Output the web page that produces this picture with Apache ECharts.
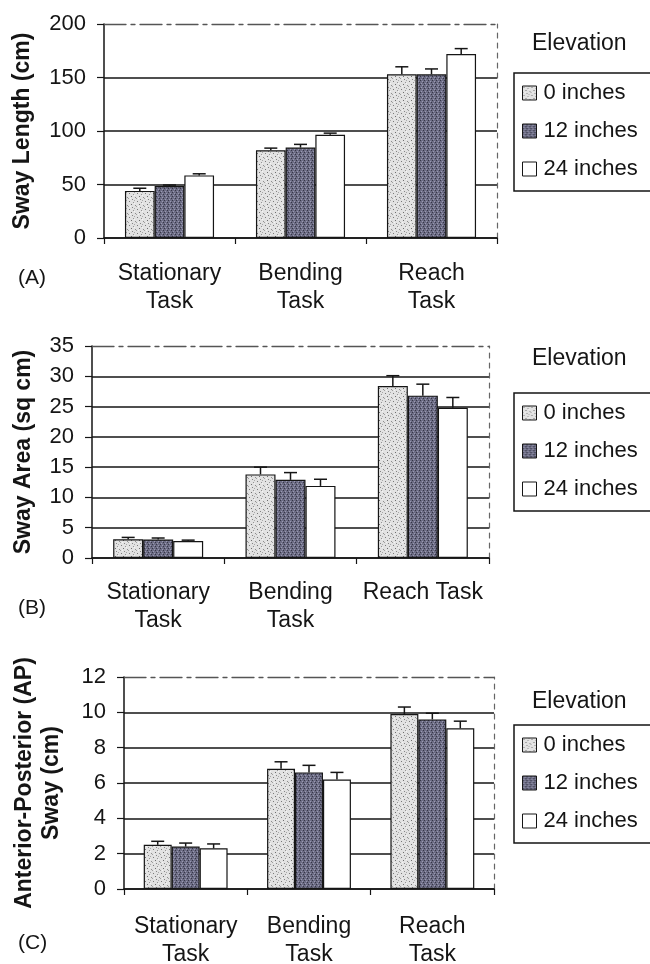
<!DOCTYPE html>
<html>
<head>
<meta charset="utf-8">
<script src="https://cdn.jsdelivr.net/npm/echarts@6/dist/echarts.min.js"></script>
<style>
html,body{margin:0;padding:0;background:#fff;}
#chart{width:650px;height:964px;}
</style>
</head>
<body>
<div id="chart"></div>
<script>
// ---------- data ----------
const categoriesTwoLine = ['Stationary\nTask', 'Bending\nTask', 'Reach\nTask'];
const categoriesAreaPanel = ['Stationary\nTask', 'Bending\nTask', 'Reach Task'];
const seriesNames = ['0 inches', '12 inches', '24 inches'];

// Panel A: Sway Length (cm)
const lengthZero   = [44, 82, 153];
const lengthTwelve = [48.5, 84.5, 153];
const lengthTwenty = [58.5, 96.5, 172];
const lengthErrZero   = [2.5, 2, 7];
const lengthErrTwelve = [1, 3, 5];
const lengthErrTwenty = [1.5, 1.5, 5];
const lengthTicks = {min: 0, max: 200, interval: 50};

// Panel B: Sway Area (sq cm)
const areaZero   = [3.1, 13.8, 28.4];
const areaTwelve = [3.05, 12.9, 26.8];
const areaTwenty = [2.8, 11.9, 24.8];
const areaErrZero   = [0.3, 1.2, 1.7];
const areaErrTwelve = [0.25, 1.2, 1.9];
const areaErrTwenty = [0.15, 1.1, 1.7];
const areaTicks = {min: 0, max: 35, interval: 5};

// Panel C: Anterior-Posterior (AP) Sway (cm)
const apZero   = [2.5, 6.8, 9.9];
const apTwelve = [2.4, 6.6, 9.6];
const apTwenty = [2.3, 6.2, 9.1];
const apErrZero   = [0.2, 0.4, 0.4];
const apErrTwelve = [0.2, 0.4, 0.35];
const apErrTwenty = [0.25, 0.4, 0.4];
const apTicks = {min: 0, max: 12, interval: 2};

// ---------- styles ----------
const FONT = '"Liberation Sans", Arial, Helvetica, sans-serif';
const INK = '#151515';

function makePattern(bg, dots) {
  const c = document.createElement('canvas');
  c.width = 8; c.height = 8;
  const g = c.getContext('2d');
  g.fillStyle = bg; g.fillRect(0, 0, 8, 8);
  dots.forEach(d => { g.fillStyle = d[2]; g.fillRect(d[0], d[1], d[3] || 1, d[4] || 1); });
  return {image: c, repeat: 'repeat'};
}
const lightPattern = makePattern('#e2e2e2', [
  [1,1,'#7a7a7a'],[5,2,'#959595'],[3,4,'#6e6e6e'],[7,5,'#8e8e8e'],[0,6,'#a0a0a0'],[4,7,'#848484'],[6,0,'#a8a8a8'],[2,6,'#f4f4f4'],[6,3,'#f4f4f4']
]);
const darkPattern = makePattern('#6c6c84', [
  [0,0,'#363646'],[2,1,'#9a9ab2'],[4,0,'#363646'],[6,1,'#9a9ab2'],
  [1,3,'#9a9ab2'],[3,2,'#363646'],[5,3,'#9a9ab2'],[7,2,'#363646'],
  [0,4,'#363646'],[2,5,'#9a9ab2'],[4,4,'#363646'],[6,5,'#9a9ab2'],
  [1,7,'#9a9ab2'],[3,6,'#363646'],[5,7,'#9a9ab2'],[7,6,'#363646']
]);
const fills = [lightPattern, darkPattern, '#ffffff'];

const grids = [
  {left: 104, top: 24, width: 393, height: 214},
  {left: 92, top: 346, width: 397, height: 212},
  {left: 124, top: 677, width: 370, height: 212}
];
const CAT_GAP = 0.32;

const panels = [
  {cats: categoriesTwoLine, vals: [lengthZero, lengthTwelve, lengthTwenty], errs: [lengthErrZero, lengthErrTwelve, lengthErrTwenty], ticks: lengthTicks,
   yName: 'Sway Length (cm)', nameGap: 68, labelMargin: 22, legendTop: 73, elevY: 45, tag: '(A)', tagY: 280},
  {cats: categoriesAreaPanel, vals: [areaZero, areaTwelve, areaTwenty], errs: [areaErrZero, areaErrTwelve, areaErrTwenty], ticks: areaTicks,
   yName: 'Sway Area (sq cm)', nameGap: 55, labelMargin: 21, legendTop: 393, elevY: 360, tag: '(B)', tagY: 610},
  {cats: categoriesTwoLine, vals: [apZero, apTwelve, apTwenty], errs: [apErrZero, apErrTwelve, apErrTwenty], ticks: apTicks,
   yName: 'Anterior-Posterior (AP)\nSway (cm)', nameGap: 59, labelMargin: 24, legendTop: 725, elevY: 703, tag: '(C)', tagY: 945}
];

const xAxes = [], yAxes = [], series = [], legends = [], graphics = [];

panels.forEach((p, pi) => {
  xAxes.push({
    type: 'category', gridIndex: pi, data: p.cats, position: 'bottom',
    axisLine: {show: true, lineStyle: {color: INK, width: 1.5}},
    axisTick: {show: true, length: 6, inside: false, lineStyle: {color: INK, width: 1.2}},
    axisLabel: {color: INK, fontSize: 23, fontFamily: FONT, lineHeight: 28, margin: p.labelMargin, interval: 0},
    splitLine: {show: false}
  });
  xAxes.push({
    type: 'value', gridIndex: pi, position: 'top', min: 0, max: 1,
    axisLine: {show: true, onZero: false, lineStyle: {color: '#555', width: 1.3, type: [22, 5, 4, 5]}},
    axisTick: {show: false}, axisLabel: {show: false}, splitLine: {show: false}
  });
  yAxes.push({
    type: 'value', gridIndex: pi, min: p.ticks.min, max: p.ticks.max, interval: p.ticks.interval,
    name: p.yName, nameLocation: 'middle', nameGap: p.nameGap, nameRotate: 90,
    nameTextStyle: {color: INK, fontSize: 23, fontWeight: 'bold', fontFamily: FONT, lineHeight: 27},
    axisLine: {show: true, lineStyle: {color: INK, width: 1.5}},
    axisTick: {show: true, length: 7, inside: false, lineStyle: {color: INK, width: 1.2}},
    axisLabel: {color: INK, fontSize: 22, fontFamily: FONT, margin: 18},
    splitLine: {show: true, showMaxLine: false, lineStyle: {color: INK, width: 1.5}}
  });
  yAxes.push({
    type: 'value', gridIndex: pi, position: 'right', min: 0, max: 1,
    axisLine: {show: true, onZero: false, lineStyle: {color: '#666', width: 1.2, type: [5, 5]}},
    axisTick: {show: false}, axisLabel: {show: false}, splitLine: {show: false}
  });

  p.vals.forEach((vals, si) => {
    series.push({
      type: 'bar', name: seriesNames[si], xAxisIndex: pi * 2, yAxisIndex: pi * 2,
      data: vals, barGap: '0%', barCategoryGap: (CAT_GAP * 100) + '%',
      itemStyle: {color: fills[si], borderColor: INK, borderWidth: 1.2},
      emphasis: {disabled: true}, z: 3
    });
  });
  p.vals.forEach((vals, si) => {
    series.push({
      type: 'custom', name: 'error', xAxisIndex: pi * 2, yAxisIndex: pi * 2, z: 5,
      data: vals.map((v, i) => [i, v, v + p.errs[si][i]]),
      renderItem: function (params, api) {
        const base = api.coord([api.value(0), api.value(1)]);
        const top = api.coord([api.value(0), api.value(2)]);
        const band = api.size([1, 0])[0];
        const bw = band * (1 - CAT_GAP) / 3;
        const x = base[0] + (si - 1) * bw;
        const cap = 6.5;
        return {
          type: 'group',
          children: [
            {type: 'line', shape: {x1: x, y1: base[1], x2: x, y2: top[1]}, style: {stroke: INK, lineWidth: 1.5}},
            {type: 'line', shape: {x1: x - cap, y1: top[1], x2: x + cap, y2: top[1]}, style: {stroke: INK, lineWidth: 1.5}}
          ]
        };
      },
      silent: true
    });
  });

  legends.push({
    orient: 'vertical', left: 514, top: p.legendTop,
    padding: [9, 30, 11, 8], itemGap: 16, itemWidth: 14, itemHeight: 14, icon: 'rect',
    borderColor: INK, borderWidth: 1.5, backgroundColor: '#fff',
    textStyle: {color: INK, fontSize: 22, fontFamily: FONT, lineHeight: 22, padding: [0, 0, 0, 2]},
    itemStyle: {borderColor: INK, borderWidth: 1},
    data: seriesNames, selectedMode: false
  });

  graphics.push({
    type: 'text', left: 532, top: p.elevY - 13,
    style: {text: 'Elevation', fill: INK, font: '23px ' + FONT}
  });
  graphics.push({
    type: 'text', left: 18, top: p.tagY - 12,
    style: {text: p.tag, fill: INK, font: '21px ' + FONT}
  });
});

const chart = echarts.init(document.getElementById('chart'), null, {renderer: 'canvas'});
chart.setOption({
  backgroundColor: '#ffffff',
  animation: false,
  textStyle: {fontFamily: FONT},
  grid: grids.map(g => Object.assign({containLabel: false, outerBoundsMode: 'none'}, g)),
  xAxis: xAxes,
  yAxis: yAxes,
  legend: legends,
  series: series,
  graphic: graphics,
  tooltip: {show: false}
});
</script>
</body>
</html>
